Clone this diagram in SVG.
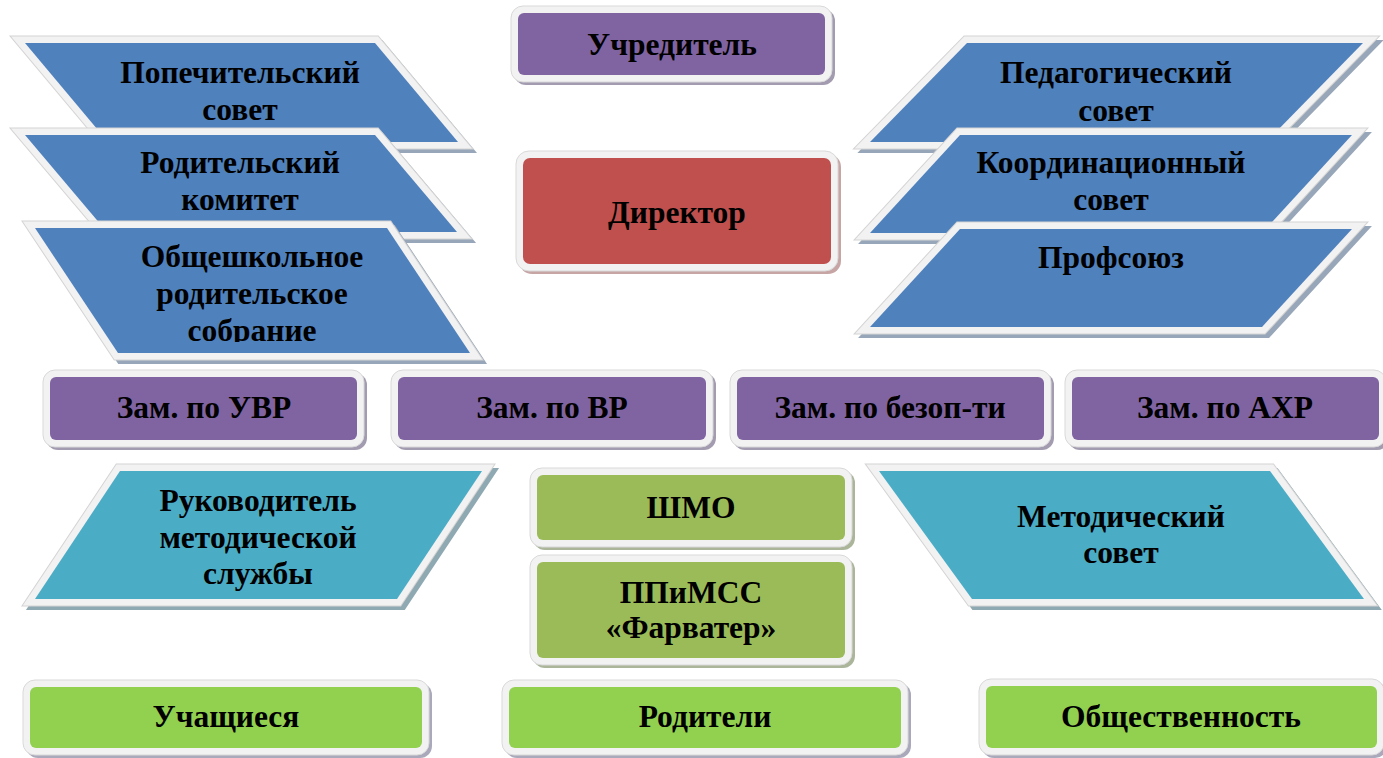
<svg xmlns="http://www.w3.org/2000/svg" width="1383" height="758" viewBox="0 0 1383 758">
<defs>
<style>
text{font-family:"Liberation Serif","Times New Roman","DejaVu Serif",serif;font-weight:bold;font-size:31.5px;fill:#000;text-anchor:middle}
.fo{fill:#d4d4d4;stroke:#d4d4d4;stroke-width:15;stroke-linejoin:miter}
.fr{fill:#f2f2f2;stroke:#f2f2f2;stroke-width:13;stroke-linejoin:miter}
.sb{fill:#97a6b8;stroke:#97a6b8;stroke-width:14;stroke-linejoin:miter}
.st{fill:#8fa9b3;stroke:#8fa9b3;stroke-width:14;stroke-linejoin:miter}
.blue{fill:#4f81bd}
.teal{fill:#4bacc6}
.purple{fill:#8064a2}
.red{fill:#c0504d}
.olive{fill:#9bbb59}
.lgreen{fill:#92d050}
.rf{fill:#f2f2f2;stroke:#d9d9d9;stroke-width:1}
.spu{fill:#a39bb0}
.sre{fill:#c7a5a5}
.sol{fill:#aab59a}
.slg{fill:#a9a9bb}
</style>
<clipPath id="clipObs"><rect x="0" y="228" width="500" height="114"/></clipPath>
</defs>

<g id="node-uchreditel">
<rect class="spu" x="514" y="9" width="321" height="76" rx="12"/>
<rect class="rf" x="511" y="6" width="321" height="76" rx="12"/>
<rect class="purple" x="518" y="13" width="307" height="62" rx="6"/>
<text x="672" y="55">Учредитель</text>
</g>

<g id="node-popechitelsky">
<polygon class="sb" points="29,47 379,47 462,146 112,146"/>
<polygon class="fo" points="25,43 375,43 458,142 108,142"/>
<polygon class="fr" points="25,43 375,43 458,142 108,142"/>
<polygon class="blue" points="25,43 375,43 458,142 108,142"/>
<text x="240" y="83">Попечительский</text>
<text x="240" y="120">совет</text>
</g>

<g id="node-roditelsky">
<polygon class="sb" points="29,139 379,139 461,236 111,236"/>
<polygon class="fo" points="25,135 375,135 457,232 107,232"/>
<polygon class="fr" points="25,135 375,135 457,232 107,232"/>
<polygon class="blue" points="25,135 375,135 457,232 107,232"/>
<text x="240" y="173">Родительский</text>
<text x="240" y="210">комитет</text>
</g>

<g id="node-obshcheshkolnoe">
<polygon class="sb" points="39,232 391,232 474,357 122,357"/>
<polygon class="fo" points="35,228 387,228 470,353 118,353"/>
<polygon class="fr" points="35,228 387,228 470,353 118,353"/>
<polygon class="blue" points="35,228 387,228 470,353 118,353"/>
<g clip-path="url(#clipObs)">
<text x="252" y="267">Общешкольное</text>
<text x="252" y="304">родительское</text>
<text x="252" y="341">собрание</text>
</g>
</g>

<g id="node-direktor">
<rect class="sre" x="519" y="154" width="322" height="120" rx="13"/>
<rect class="rf" x="516" y="151" width="322" height="120" rx="13"/>
<rect class="red" x="523" y="158" width="308" height="106" rx="7"/>
<text x="677" y="223">Директор</text>
</g>

<g id="node-pedagogichesky">
<polygon class="sb" points="971,47 1367,47 1270,146 874,146"/>
<polygon class="fo" points="967,43 1363,43 1266,142 870,142"/>
<polygon class="fr" points="967,43 1363,43 1266,142 870,142"/>
<polygon class="blue" points="967,43 1363,43 1266,142 870,142"/>
<text x="1116" y="83">Педагогический</text>
<text x="1116" y="121">совет</text>
</g>

<g id="node-koordinatsionny">
<polygon class="sb" points="964,139 1356,139 1266,237 874,237"/>
<polygon class="fo" points="960,135 1352,135 1262,233 870,233"/>
<polygon class="fr" points="960,135 1352,135 1262,233 870,233"/>
<polygon class="blue" points="960,135 1352,135 1262,233 870,233"/>
<text x="1111" y="173">Координационный</text>
<text x="1111" y="210">совет</text>
</g>

<g id="node-profsoyuz">
<polygon class="sb" points="964,233 1356,233 1266,331 874,331"/>
<polygon class="fo" points="960,229 1352,229 1262,327 870,327"/>
<polygon class="fr" points="960,229 1352,229 1262,327 870,327"/>
<polygon class="blue" points="960,229 1352,229 1262,327 870,327"/>
<text x="1111" y="268">Профсоюз</text>
</g>

<g id="node-zam-uvr">
<rect class="spu" x="46" y="373" width="321" height="77" rx="12"/>
<rect class="rf" x="43" y="370" width="321" height="77" rx="12"/>
<rect class="purple" x="50" y="377" width="307" height="63" rx="6"/>
<text x="204" y="418">Зам. по УВР</text>
</g>

<g id="node-zam-vr">
<rect class="spu" x="394" y="373" width="322" height="77" rx="12"/>
<rect class="rf" x="391" y="370" width="322" height="77" rx="12"/>
<rect class="purple" x="398" y="377" width="308" height="63" rx="6"/>
<text x="552" y="418">Зам. по ВР</text>
</g>

<g id="node-zam-bezop">
<rect class="spu" x="733" y="373" width="321" height="77" rx="12"/>
<rect class="rf" x="730" y="370" width="321" height="77" rx="12"/>
<rect class="purple" x="737" y="377" width="307" height="63" rx="6"/>
<text x="890" y="418">Зам. по безоп-ти</text>
</g>

<g id="node-zam-ahr">
<rect class="spu" x="1068" y="373" width="321" height="77" rx="12"/>
<rect class="rf" x="1065" y="370" width="321" height="77" rx="12"/>
<rect class="purple" x="1072" y="377" width="307" height="63" rx="6"/>
<text x="1225" y="418">Зам. по АХР</text>
</g>

<g id="node-rukovoditel">
<polygon class="st" points="124,475 486,475 401,603 39,603"/>
<polygon class="fo" points="120,471 482,471 397,599 35,599"/>
<polygon class="fr" points="120,471 482,471 397,599 35,599"/>
<polygon class="teal" points="120,471 482,471 397,599 35,599"/>
<text x="258" y="511">Руководитель</text>
<text x="258" y="548">методической</text>
<text x="258" y="584">службы</text>
</g>

<g id="node-shmo">
<rect class="sol" x="533" y="471" width="322" height="79" rx="12"/>
<rect class="rf" x="530" y="468" width="322" height="79" rx="12"/>
<rect class="olive" x="537" y="475" width="308" height="65" rx="6"/>
<text x="691" y="518">ШМО</text>
</g>

<g id="node-ppimss">
<rect class="sol" x="533" y="558" width="322" height="110" rx="12"/>
<rect class="rf" x="530" y="555" width="322" height="110" rx="12"/>
<rect class="olive" x="537" y="562" width="308" height="96" rx="6"/>
<text x="691" y="603">ППиМСС</text>
<text x="691" y="638">«Фарватер»</text>
</g>

<g id="node-metodichesky">
<polygon class="st" points="883,475 1274,475 1368,603 976,603"/>
<polygon class="fo" points="879,471 1270,471 1364,599 972,599"/>
<polygon class="fr" points="879,471 1270,471 1364,599 972,599"/>
<polygon class="teal" points="879,471 1270,471 1364,599 972,599"/>
<text x="1121" y="527">Методический</text>
<text x="1121" y="563">совет</text>
</g>

<g id="node-uchashchiesya">
<rect class="slg" x="26" y="683" width="406" height="75" rx="12"/>
<rect class="rf" x="23" y="680" width="406" height="75" rx="12"/>
<rect class="lgreen" x="30" y="687" width="392" height="61" rx="6"/>
<text x="226" y="727">Учащиеся</text>
</g>

<g id="node-roditeli">
<rect class="slg" x="505" y="683" width="406" height="75" rx="12"/>
<rect class="rf" x="502" y="680" width="406" height="75" rx="12"/>
<rect class="lgreen" x="509" y="687" width="392" height="61" rx="6"/>
<text x="705" y="727">Родители</text>
</g>

<g id="node-obshchestvennost">
<rect class="slg" x="982" y="682" width="405" height="76" rx="12"/>
<rect class="rf" x="979" y="679" width="405" height="76" rx="12"/>
<rect class="lgreen" x="986" y="686" width="391" height="62" rx="6"/>
<text x="1181" y="727">Общественность</text>
</g>

<g id="connectors"></g>
</svg>
